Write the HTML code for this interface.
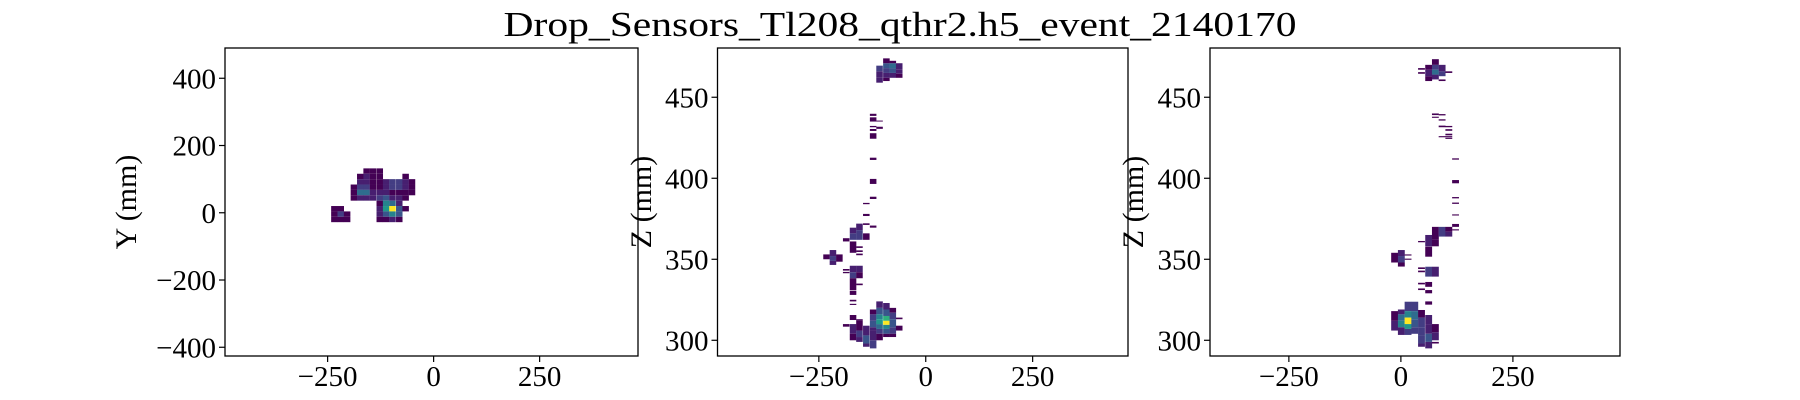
<!DOCTYPE html>
<html>
<head>
<meta charset="utf-8">
<style>
  html,body{margin:0;padding:0;background:#fff;}
  svg{display:block;}
  text{font-family:"Liberation Serif",serif;fill:#000;}
</style>
</head>
<body>
<svg id="fig" width="1800" height="400" viewBox="0 0 1800 400" xmlns="http://www.w3.org/2000/svg">
  <rect x="0" y="0" width="1800" height="400" fill="#fff"/>
  <text x="900" y="36" font-size="35" text-anchor="middle" textLength="793" lengthAdjust="spacingAndGlyphs">Drop_Sensors_Tl208_qthr2.h5_event_2140170</text>
</svg>
<script>
// ---- data (mm / charge units) ----
// Panel 1: XY histogram, bin centers
const p1Xc = [-158,-143,-127, -173,-158,-143,-127,-66, -173,-158,-143,-127,-112,-97,-81,-66,-51,
  -188,-173,-158,-143,-127,-112,-97,-81,-66,-51, -188,-173,-158,-143,-127,-112,-97,-81,-66,-51,
  -188,-173,-158,-143,-127,-112,-97,-81,-66, -127,-112,-97,-81,
  -234,-219,-127,-112,-97,-81,-66, -234,-219,-204,-127,-112,-97,-81, -234,-219,-204,-127,-112,-97,-81];
const p1Yc = [124,124,124, 108,108,108,108,108, 92,92,92,92,92,92,92,92,92,
  76,76,76,76,76,76,76,76,76,76, 60,60,60,60,60,60,60,60,60,60,
  44,44,44,44,44,44,44,44,44, 28,28,28,28,
  12,12,12,12,12,12,12, -4,-4,-4,-4,-4,-4,-4, -20,-20,-20,-20,-20,-20,-20];
const p1V = [1,1,1, 1,2,1,1,1, 2,2,1,1,2,3,3,2,1,
  1,3,3,1,1,2,3,3,2,1, 1,5,5,2,2,2,1,1,1,1,
  1,2,2,2,3,4,2,2,1, 1,6,5,2,
  1,1,2,7,10,4,1, 1,3,1,2,4,6,4, 1,1,1,1,1,2,1];

// Panel 2: XZ histogram cells [x center, z low, z high, value]
const p2Cells = [
 [-108,459,462,2],[-108,462,466,2],[-108,466,469.5,3],
 [-92,460,462,1],[-92,462,465,2],[-92,465,468,3],[-92,468,471,4],[-92,471,474,1],
 [-77,462,465,2],[-77,465,468,4],[-77,468,471,5],[-77,471,472.5,1],
 [-62,462,464.5,1],[-62,464.5,467,2],[-62,467,471,2],
 [-123,438.5,439.8,1],[-123,435,437.6,1],[-108,435,435.6,1],[-123,431.5,432.3,1],[-108,430.5,431.8,1],
 [-123,429.2,430.4,1],[-123,424.4,427.8,1],[-123,411.3,412.7,1],[-123,396.5,399.6,1],[-123,387.2,388.6,1],[-139,384,384.8,1],
 [-139,376.7,378,1],[-139,371.2,372.2,1],[-123,369.5,370.8,1],
 [-155,368,372,2],[-170,366,369.5,2],[-170,362,366,3],[-155,362,368,3],[-139,362,366,1],[-186,361,363,1],
 [-170,354,361,1],[-155,357,358,1],[-155,354.5,355.5,1],[-155,352.5,353.5,1],
 [-232,350,353,1],[-217,352,355.7,2],[-217,349,352,3],[-217,346.5,349,2],[-202,348.5,353,1],
 [-170,342,346,2],[-170,338.3,342,3],[-155,342,346,2],[-155,338.3,342,1],[-186,343,344,1],[-186,341.4,342.2,1],
 [-170,331,338.3,1],[-155,334,335,1],[-170,328,330.6,1],[-170,324,325,1],[-170,321.8,322.5,1],
 [-170,312.5,315.6,1],[-186,308.4,310,1],
 [-170,304,310,2],[-170,300,304,1],[-155,306,312,1],[-155,302,306,3],[-155,299,302,2],[-155,312,313,1],
 [-139,303,309,2],[-139,298,303,4],[-139,296,298,2],[-123,300,306,2],[-123,295,300,3],
 [-123,316,319,1],[-123,312,316,3],[-123,308,312,4],[-123,306,308,2],
 [-108,320,324,2],[-108,316,320,4],[-108,313,316,6],[-108,310,313,7],[-108,307,310,5],[-108,304,307,3],[-108,300,304,1],
 [-92,319,323,2],[-92,315,319,4],[-92,312,315,8],[-92,309.5,312,10],[-92,307,309.5,6],[-92,304,307,4],[-92,302,304,1],
 [-77,317,320,1],[-77,313,317,3],[-77,308,313,4],[-77,304,308,3],[-77,302,304,1],
 [-62,313,314,1],[-62,306,309,1]
];

// Panel 3: YZ histogram cells [y center, z low, z high, value]
const p3Cells = [
 [46,467,468,1],[46,464.5,465.5,1],[62,460,463,1],[62,463,467,2],[62,467,470,1],
 [77,461,464,2],[77,464,467,5],[77,467,470,3],[77,470,473.5,1],
 [92,463,466,3],[92,466,470,2],[92,460,461,1],[107,465,466,1],
 [77,439,440,1],[77,437.3,438,1],[92,438.8,439.6,1],[92,435.6,436.4,1],[92,431.5,432.5,1],[107,431.5,432.3,1],
 [107,429.3,430.3,1],[107,426.5,427.5,1],[92,425.3,426,1],[107,425.3,426,1],[107,424.3,425,1],
 [122,411.5,412.3,1],[122,396.9,398.9,1],[122,387.6,388.4,1],[122,384.2,385,1],[122,377,377.7,1],[122,370,371.8,1],[122,367.8,368.5,1],
 [77,362,370,1],[92,364,370,3],[107,364,367,2],[107,367,370,1],[62,358,365,2],[77,358,362,1],[46,360.5,361.3,1],[62,351.6,357.8,1],
 [-14,348,354,1],[1,352,355.7,2],[1,348,352,3],[1,345.5,348,1],[16,352.3,353,1],[16,349.7,350.4,1],
 [62,339.3,345.4,3],[77,339.3,345.4,2],[46,344,345,1],[46,342,343,1],
 [62,333,336,1],[62,329,331,1],[62,322,324,1],[46,334.5,335.5,1],[46,331,332,1],
 [-14,312,318,1],[-14,306,312,2],
 [1,316,319,2],[1,312,316,5],[1,308,312,6],[1,303.3,308,2],
 [16,318,323.8,3],[16,314,318,6],[16,310,314,10],[16,307,310,7],[16,303.3,307,3],
 [31,318,323.8,3],[31,313,318,5],[31,308,313,4],[31,304,308,3],
 [46,314,318.7,1],[46,308,314,3],[46,303,308,3],[46,298,303,3],[46,296,298,2],
 [62,310,315.6,2],[62,304,310,2],[62,299,304,4],[62,295,299,2],
 [77,305,310,1],[77,300,305,2],[77,298,299,1]
];

const xTicks = [-250, 0, 250];
const xTickLabels = ["\u2212250", "0", "250"];
const p1YTicks = [-400, -200, 0, 200, 400];
const p1YTickLabels = ["\u2212400", "\u2212200", "0", "200", "400"];
const zTicks = [300, 350, 400, 450];
const zTickLabels = ["300", "350", "400", "450"];
const binW = 15.3, p1BinH = 16;

// ---- rendering ----
const NS = "http://www.w3.org/2000/svg";
const svg = document.getElementById("fig");
const vir = [[0,[68,1,84]],[0.13,[72,36,117]],[0.25,[65,68,135]],[0.38,[53,95,141]],[0.5,[42,120,142]],
  [0.63,[33,145,140]],[0.75,[34,168,132]],[0.88,[94,201,98]],[1,[253,231,37]]];
function viridis(t){
  t=Math.max(0,Math.min(1,t));
  for(let i=1;i<vir.length;i++){ if(t<=vir[i][0]){ const a=vir[i-1],b=vir[i],f=(t-a[0])/(b[0]-a[0]);
    const c=a[1].map((v,k)=>Math.round(v+(b[1][k]-v)*f)); return `rgb(${c[0]},${c[1]},${c[2]})`; } }
  return "rgb(253,231,37)";
}
function el(tag, attrs){ const e=document.createElementNS(NS,tag); for(const k in attrs) e.setAttribute(k,attrs[k]); return e; }
function lin(d0,d1,r0,r1){ return v=>r0+(v-d0)/(d1-d0)*(r1-r0); }

const panels = [
  {name:"xy", L:225, R:638, T:48, B:356, xd:[-492,482], yd:[-426,490], yt:p1YTicks, ytl:p1YTickLabels, ylab:"Y (mm)", ylx:126},
  {name:"xz", L:717.5, R:1128, T:48, B:356, xd:[-487,473], yd:[290.3,480.4], yt:zTicks, ytl:zTickLabels, ylab:"Z (mm)", ylx:641},
  {name:"yz", L:1210, R:1620, T:48, B:356, xd:[-426,489], yd:[290.3,480.4], yt:zTicks, ytl:zTickLabels, ylab:"Z (mm)", ylx:1133}
];

panels.forEach((p, pi) => {
  const g = el("g", {});
  
  
  svg.appendChild(g);
  const sx = lin(p.xd[0], p.xd[1], p.L, p.R);
  const sy = lin(p.yd[0], p.yd[1], p.B, p.T);
  const cells = el("g", {});
  
  
  g.appendChild(cells);
  function addCell(xc, lo, hi, v){
    const x0 = sx(xc - binW/2), x1 = sx(xc + binW/2);
    const r = el("rect", {x:x0.toFixed(2), y:sy(hi).toFixed(2), width:(x1-x0).toFixed(2),
      height:Math.max(0.8, sy(lo)-sy(hi)).toFixed(2), fill:viridis((v-1)/9)});
    
    
    cells.appendChild(r);
  }
  if (pi === 0) {
    for (let i=0;i<p1Xc.length;i++) addCell(p1Xc[i], p1Yc[i]-p1BinH/2, p1Yc[i]+p1BinH/2, p1V[i]);
  } else {
    const data = pi === 1 ? p2Cells : p3Cells;
    data.forEach(c => addCell(c[0], c[1], c[2], c[3]));
  }
  const frame = el("rect", {x:p.L, y:p.T, width:p.R-p.L, height:p.B-p.T, fill:"none", stroke:"#000", "stroke-width":1.3});
  
  
  g.appendChild(frame);
  xTicks.forEach((t, i) => {
    const x = sx(t);
    const tk = el("line", {x1:x, y1:p.B, x2:x, y2:p.B+6, stroke:"#000", "stroke-width":1.2});
    
    
    g.appendChild(tk);
    const tx = el("text", {x:x, y:p.B+30, "font-size":29, "text-anchor":"middle"});
    tx.textContent = xTickLabels[i];
    
    
    g.appendChild(tx);
  });
  p.yt.forEach((t, i) => {
    const y = sy(t);
    const tk = el("line", {x1:p.L-6, y1:y, x2:p.L, y2:y, stroke:"#000", "stroke-width":1.2});
    
    
    g.appendChild(tk);
    const tx = el("text", {x:p.L-9, y:y+10, "font-size":29, "text-anchor":"end"});
    tx.textContent = p.ytl[i];
    
    
    g.appendChild(tx);
  });
  const yl = el("text", {x:p.ylx, y:202, "font-size":30, "text-anchor":"middle", transform:`rotate(-90 ${p.ylx} 202)`, dy:"10"});
  yl.textContent = p.ylab;
  
  
  g.appendChild(yl);
});
</script>
</body>
</html>
